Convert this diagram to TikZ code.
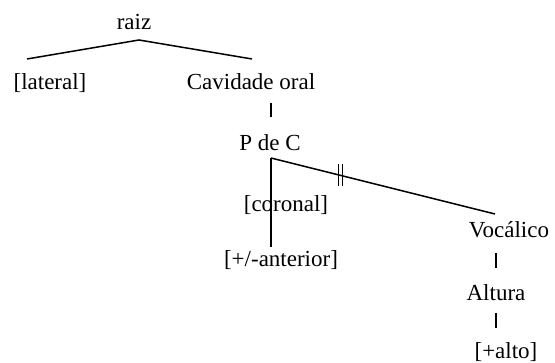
\documentclass[tikz,border=0pt]{standalone}
\usepackage{fontspec}
\setmainfont{Liberation Serif}
\usetikzlibrary{calc}
\begin{document}
\begin{tikzpicture}[x=1pt,y=1pt,
  lbl/.style={inner sep=0pt,anchor=base,font=\fontsize{23}{27}\selectfont},
  ln/.style={line width=1.5pt}]
\useasboundingbox (0,0) rectangle (555,363);
% nodes (y = 363 - image y)
\node[lbl] (raiz) at (134,333) {raiz};
\node[lbl] (lat) at (50,273) {[lateral]};
\node[lbl] (cav) at (251,273) {Cavidade oral};
\node[lbl] (pdc) at (270,212) {P de C};
\node[lbl] (cor) at (286,151) {[coronal]};
\node[lbl] (ant) at (281,96) {[+/-anterior]};
\node[lbl] (voc) at (509,125) {Vocálico};
\node[lbl] (alt) at (496,62) {Altura};
\node[lbl] (alto) at (506,4) {[+alto]};
% coordinates
\coordinate (rtop) at (139,323);
\coordinate (rl) at (27,304);
\coordinate (rr) at (252,304);
\coordinate (c1) at (271,260);
\coordinate (c2) at (271,246);
\coordinate (p0) at (271,205);
\coordinate (pa) at (271,116);
\coordinate (pv) at (495,149);
\coordinate (v1) at (496,110);
\coordinate (v2) at (496,95);
\coordinate (a1) at (496,50);
\coordinate (a2) at (496,35);
\draw[ln] (rl) -- (rtop) -- (rr);
\draw[ln] (c1) -- (c2);
\draw[ln] (p0) -- (pa);
\draw[ln] (p0) -- (pv);
\draw[ln] (v1) -- (v2);
\draw[ln] (a1) -- (a2);
% double bar
\coordinate (db) at ($(p0)!0.31!(pv)$);
\draw[line width=0.8pt] ([xshift=-2pt,yshift=-11pt]db) -- ([xshift=-2pt,yshift=11pt]db);
\draw[line width=0.8pt] ([xshift=2pt,yshift=-11pt]db) -- ([xshift=2pt,yshift=11pt]db);
\end{tikzpicture}
\end{document}
